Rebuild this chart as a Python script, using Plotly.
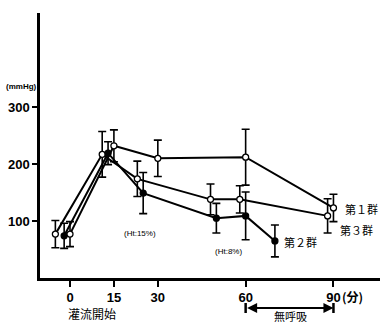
import plotly.graph_objects as go

# Time (min) and mean arterial pressure (mmHg) per group
g1_t = [0, 15, 30, 60, 90]
g1_v = [77, 232, 210, 212, 123]
g1_e = [22, 28, 32, 49, 24]

g2_t = [-2, 13, 25, 50, 60, 70]
g2_v = [74, 219, 149, 105, 109, 65]
g2_e = [22, 20, 36, 26, 42, 28]

g3_t = [-5, 11, 23, 48, 58, 88]
g3_v = [77, 217, 174, 138, 138, 109]
g3_e = [24, 40, 31, 27, 24, 30]

x_ticks = [0, 15, 30, 60, 90]
x_ticktext = ["0", "15", "30", "60", "90"]
y_ticks = [100, 200, 300]

NUM_FONT = "Liberation Sans Narrow, Liberation Sans, Arial"
JP_FONT = "Noto Sans CJK JP"

X0, X1 = -10.25, 105.9
Y0, Y1 = 0, 465
L, R, T, B = 40, 5, 13, 47
W, H = 385, 325
PW, PH = W - L - R, H - T - B

def px_x(px):
    return (px - L) / PW

def px_y(py):
    return (H - B - py) / PH

def data_to_paper_x(xv):
    return (xv - X0) / (X1 - X0)

fig = go.Figure()

def add_series(t, v, e, filled):
    fig.add_trace(go.Scatter(
        x=t, y=v, mode="lines+markers",
        line=dict(color="black", width=2),
        marker=dict(symbol="circle", size=6,
                    color="black" if filled else "white",
                    line=dict(color="black", width=1.3)),
        error_y=dict(type="data", array=e, visible=True,
                     color="black", thickness=1.6, width=4),
        showlegend=False, cliponaxis=False,
    ))

add_series(g3_t, g3_v, g3_e, False)
add_series(g2_t, g2_v, g2_e, True)
add_series(g1_t, g1_v, g1_e, False)

fig.update_layout(
    width=W, height=H,
    margin=dict(l=L, r=R, t=T, b=B),
    paper_bgcolor="white", plot_bgcolor="white",
    xaxis=dict(range=[X0, X1], tickvals=x_ticks, ticktext=x_ticktext,
               showgrid=False, zeroline=False, showline=True,
               linecolor="black", linewidth=2.5, ticks="outside",
               ticklen=6, tickwidth=2, tickcolor="black",
               tickfont=dict(family=NUM_FONT, size=13, color="black", weight="bold")),
    yaxis=dict(range=[Y0, Y1], tickvals=y_ticks,
               showgrid=False, zeroline=False, showline=True,
               linecolor="black", linewidth=2.5, ticks="outside",
               ticklen=5, tickwidth=2, tickcolor="black",
               tickfont=dict(family=NUM_FONT, size=13, color="black", weight="bold")),
)

def ann(text, px, py, size=11, family=JP_FONT, xanchor="center"):
    fig.add_annotation(text=text, x=px_x(px), y=px_y(py), xref="paper", yref="paper",
                       showarrow=False, xanchor=xanchor, yanchor="middle",
                       font=dict(family=family, size=size, color="black"))

ann("<b>(mmHg)</b>", 21, 86, size=8, family=NUM_FONT)
ann("(Ht:15%)", 140, 233, size=8, family=NUM_FONT)
ann("(Ht:8%)", 228, 251, size=8, family=NUM_FONT)

ann("第１群", 343, 209, xanchor="left")
ann("第３群", 338, 230, xanchor="left")
ann("第２群", 282, 242, xanchor="left")

ann("<b>(分)</b>", 340, 296, size=12, xanchor="left")
ann("灌流開始", 92, 313, size=12)
ann("無呼吸", 290, 316, size=11)

# apnea interval arrow 60 -> 90
ya = px_y(308)
fig.add_annotation(x=90, y=ya, ax=60, ay=0, xref="x", yref="paper", axref="x", ayref="pixel",
                   showarrow=True, arrowhead=2, arrowside="end+start", arrowsize=1,
                   arrowwidth=2, arrowcolor="black", text="")
for xv in [60, 90]:
    xp = data_to_paper_x(xv)
    fig.add_shape(type="line", x0=xp, x1=xp, y0=px_y(313), y1=px_y(303),
                  xref="paper", yref="paper", line=dict(color="black", width=2.5))

fig.write_html("out.html")
